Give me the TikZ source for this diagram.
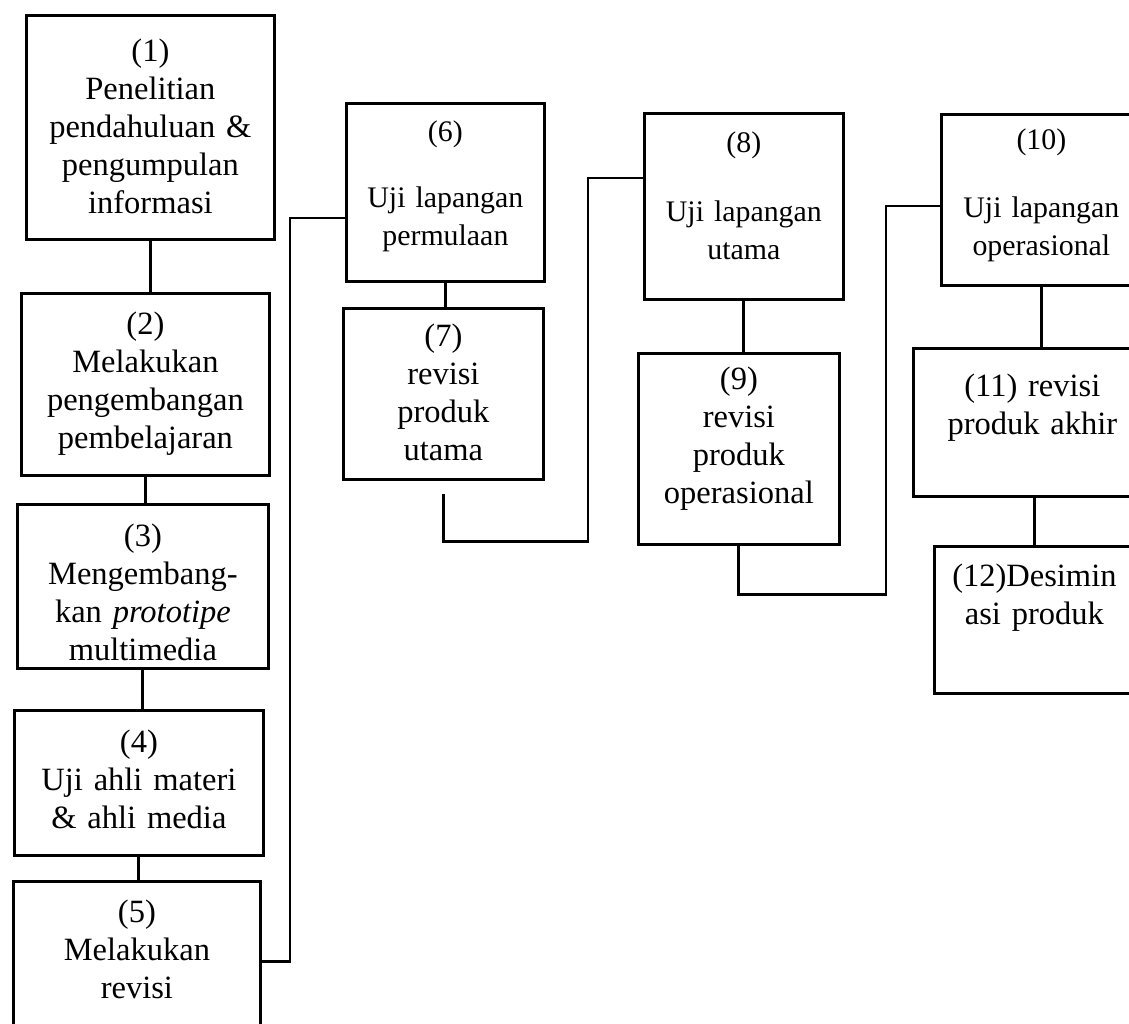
\documentclass[tikz,border=0pt]{standalone}
\usepackage{fontspec}
\setmainfont{Liberation Serif}
\begin{document}
\begin{tikzpicture}
    [
        x=0.02cm, y=-0.02cm,
        box/.style = {draw, shape=rectangle, anchor=north west, inner sep=0pt, align=center, line width=1.6pt, font=\fontsize{18.5}{21.6}\selectfont},
        boxsm/.style = {box, font=\fontsize{17}{21.6}\selectfont},
        link/.style = {line width=1.6pt},
    ]
    \useasboundingbox (0,0) rectangle (1129,1024);
    \clip (0,0) rectangle (1129,1024);

    % first column
    \node[box, text width=4.96cm, text height=0.92cm, text depth=3.56cm] (s1) at (25,14)   {(1)\\Penelitian\\pendahuluan \&\\pengumpulan\\informasi};
    \node[box, text width=4.96cm, text height=0.82cm, text depth=2.82cm] (s2) at (20,292)  {(2)\\Melakukan\\pengembangan\\pembelajaran};
    \node[box, text width=5.02cm, text height=0.84cm, text depth=2.44cm] (s3) at (16,503)  {(3)\\Mengembang-\\kan \textit{prototipe}\\multimedia};
    \node[box, text width=4.98cm, text height=0.84cm, text depth=2.06cm] (s4) at (13,709)  {(4)\\Uji ahli materi\\\& ahli media};
    \node[box, text width=4.94cm, text height=0.82cm, text depth=2.38cm] (s5) at (12,880)  {(5)\\Melakukan\\revisi};

    % second column
    \node[boxsm, text width=3.96cm, text height=0.76cm, text depth=2.80cm] (s6) at (345,102) {(6)\\[0.56cm]Uji lapangan\\permulaan};
    \node[box, text width=4.00cm, text height=0.76cm, text depth=2.66cm] (s7) at (342,307)   {(7)\\revisi\\produk\\utama};

    % third column
    \node[boxsm, text width=3.98cm, text height=0.78cm, text depth=2.94cm] (s8) at (643,112) {(8)\\[0.62cm]Uji lapangan\\utama};
    \node[box, text width=4.02cm, text height=0.72cm, text depth=3.10cm] (s9) at (637,352)   {(9)\\revisi\\produk\\operasional};

    % fourth column
    \node[boxsm, text width=4.00cm, text height=0.70cm, text depth=2.72cm] (s10) at (940,113) {(10)\\[0.60cm]Uji lapangan\\operasional};
    \node[box, text width=4.76cm, text height=0.96cm, text depth=2.00cm] (s11) at (912,347)   {(11) revisi\\produk akhir};
    \node[box, text width=4.00cm, text height=0.80cm, text depth=2.14cm] (s12) at (933,545)   {(12)Desimin\\asi produk};

    \coordinate (j56) at (290,218);
    \coordinate (j78) at (588,178);
    \coordinate (j910) at (886,206);

    \draw[link] (s1.south) -- (s1.south |- s2.north);
    \draw[link] (s2.south) -- (s2.south |- s3.north);
    \draw[link] (s3.south) -- (s3.south |- s4.north);
    \draw[link] (s4.south) -- (s4.south |- s5.north);
    \draw[link] (s5.east) -| (j56) -- (j56 -| s6.west);

    \draw[link] (s6.south) -- (s6.south |- s7.north);
    \draw[link, shorten <=0.26cm] (s7.south) -- ++(0,61) -| (j78) -- (j78 -| s8.west);

    \draw[link] (s8.south) -- (s8.south |- s9.north);
    \draw[link] (s9.south) -- ++(0,49) -| (j910) -- (j910 -| s10.west);

    \draw[link] (s10.south) -- (s10.south |- s11.north);
    \draw[link] (s12.north) -- (s12.north |- s11.south);

\end{tikzpicture}
\end{document}
